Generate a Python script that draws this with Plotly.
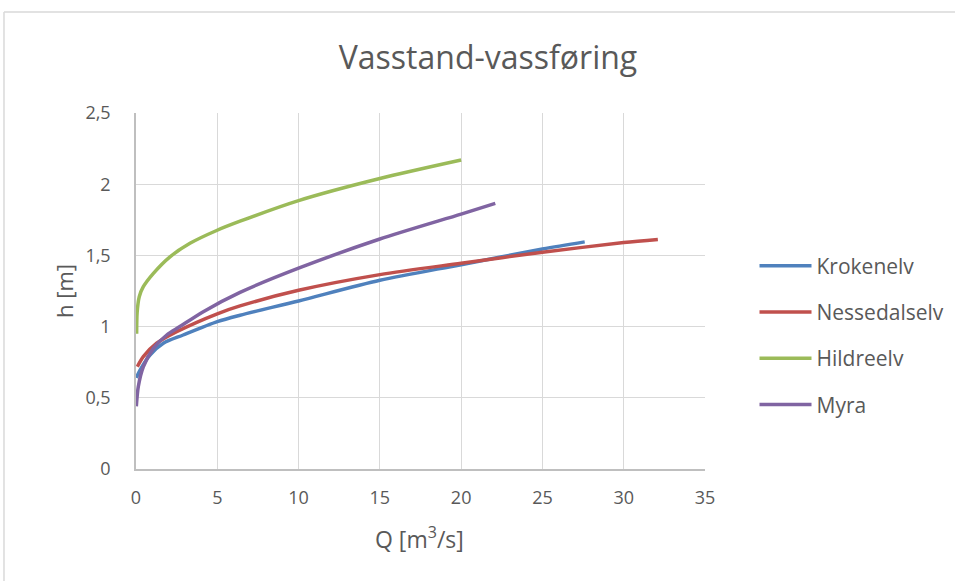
import plotly.graph_objects as go

# --- data ---
kroken_q = [0.02, 0.25, 0.86, 1.68, 2.9, 5.0, 6.4, 10, 15, 20, 25, 27.6]
kroken_h = [0.64, 0.695, 0.80, 0.883, 0.941, 1.035, 1.08, 1.18, 1.325, 1.435, 1.545, 1.595]

nesse_q = [0.08, 0.45, 1.27, 2.5, 5.0, 6.4, 10, 15, 20, 25, 30, 32.1]
nesse_h = [0.718, 0.789, 0.883, 0.964, 1.09, 1.145, 1.255, 1.365, 1.445, 1.522, 1.59, 1.612]

hildre_q = [0.04, 0.07, 0.2, 0.45, 1.07, 2.09, 3.32, 4.96, 6.4, 10, 15, 20]
hildre_h = [0.95, 1.10, 1.21, 1.28, 1.374, 1.49, 1.585, 1.675, 1.74, 1.885, 2.04, 2.17]

myra_q = [0.02, 0.14, 0.45, 1.07, 1.89, 2.7, 4.14, 6.4, 10, 15, 20, 22.1]
myra_h = [0.44, 0.578, 0.718, 0.847, 0.941, 1.0, 1.105, 1.24, 1.41, 1.615, 1.79, 1.865]

series_names = ["Krokenelv", "Nessedalselv", "Hildreelv", "Myra"]
series_colors = ["#4F81BD", "#C0504D", "#9BBB59", "#8064A2"]
series_data = [(kroken_q, kroken_h), (nesse_q, nesse_h), (hildre_q, hildre_h), (myra_q, myra_h)]

x_ticks = [0, 5, 10, 15, 20, 25, 30, 35]
y_ticks = [0, 0.5, 1, 1.5, 2, 2.5]

FONT = "Open Sans"
GRAY = "#595959"

fig = go.Figure()
for name, color, (q, h) in zip(series_names, series_colors, series_data):
    fig.add_trace(go.Scatter(
        x=q, y=h, name=name, mode="lines",
        line=dict(color=color, width=3.5, shape="spline", smoothing=0.8),
        legendgroup=name,
    ))

fig.update_layout(
    width=955, height=581,
    margin=dict(l=136, r=250, t=113, b=112, autoexpand=False),
    paper_bgcolor="white", plot_bgcolor="white",
    separators=",.",
    font=dict(family=FONT, color=GRAY, size=18),
    title=dict(text="Vasstand-vassføring", x=0.511, xanchor="center", y=0.9, yanchor="middle",
               font=dict(family=FONT, size=32, color=GRAY)),
    xaxis=dict(range=[0, 35], tickvals=x_ticks, showgrid=True, gridcolor="#D9D9D9", gridwidth=1,
               showline=True, linecolor="#BFBFBF", linewidth=1.5, zeroline=False,
               ticks="", tickfont=dict(size=18, color=GRAY), ticklabelstandoff=12),
    yaxis=dict(range=[0, 2.5], tickvals=y_ticks, showgrid=True, gridcolor="#D9D9D9", gridwidth=1,
               showline=True, linecolor="#BFBFBF", linewidth=1.5, zeroline=False,
               ticks="", tickfont=dict(size=18, color=GRAY), ticklabelstandoff=20),
    legend=dict(x=1.087, xanchor="left", y=0.375, yanchor="middle", tracegroupgap=16,
                font=dict(size=21, color=GRAY), itemwidth=52, bgcolor="rgba(0,0,0,0)"),
    annotations=[
        dict(text="Q [m<sup>3</sup>/s]", xref="paper", yref="paper", x=0.498, y=-0.195,
             xanchor="center", yanchor="middle", showarrow=False,
             font=dict(size=23, color=GRAY, family=FONT)),
        dict(text="h [m]", xref="paper", yref="paper", x=-0.1265, y=0.50,
             xanchor="center", yanchor="middle", showarrow=False, textangle=-90,
             font=dict(size=22, color=GRAY, family=FONT)),
    ],
    shapes=[
        dict(type="line", xref="paper", yref="paper", x0=-0.232, x1=1.5, y0=1.2837, y1=1.2837,
             line=dict(color="#D9D9D9", width=1.5)),
        dict(type="line", xref="paper", yref="paper", x0=-0.232, x1=-0.232, y0=-0.4, y1=1.2837,
             line=dict(color="#D9D9D9", width=1.5)),
    ],
)

fig.write_html("out.html", config={"displayModeBar": False},
               post_script="document.body.style.margin='0px';document.body.style.overflow='hidden';")
